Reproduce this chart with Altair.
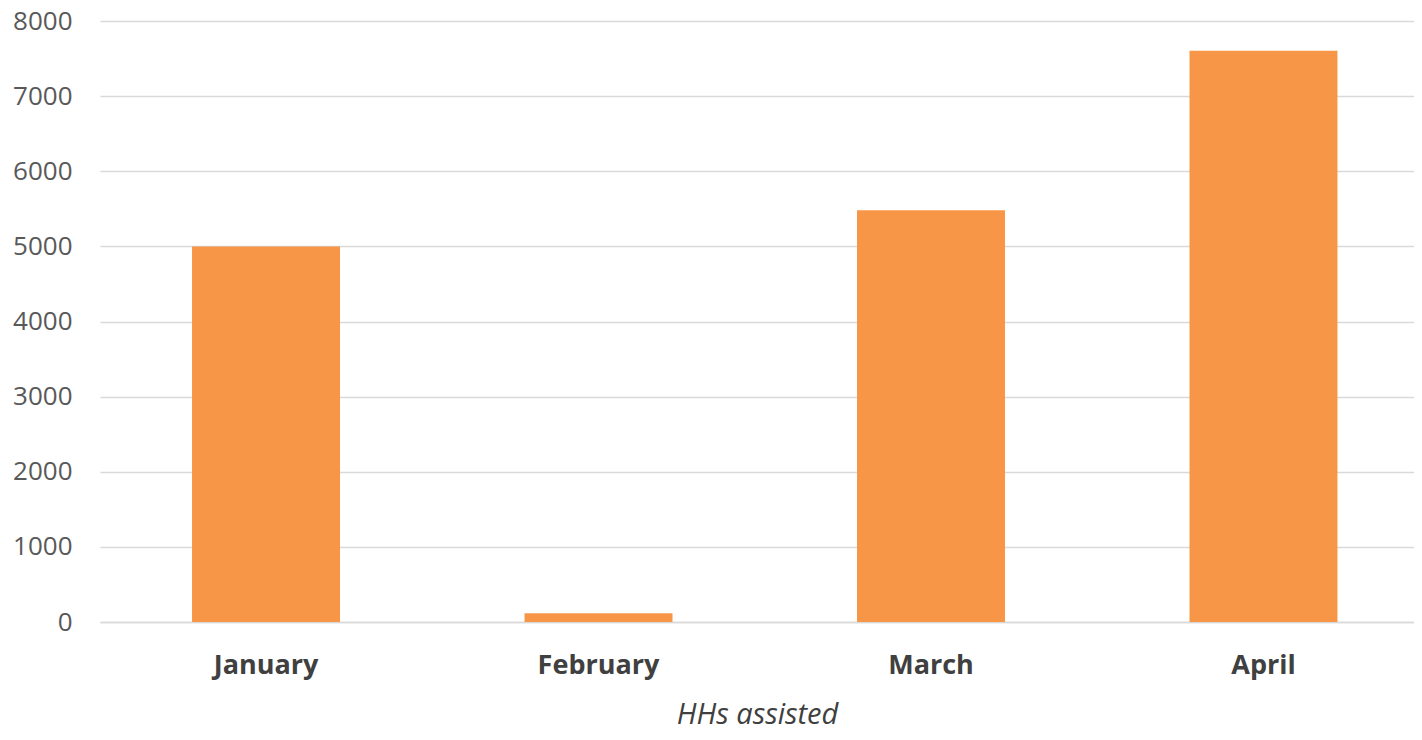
import altair as alt
import pandas as pd

months = ["January", "February", "March", "April"]
households = [5000, 115, 5480, 7605]

df = pd.DataFrame({"month": months, "value": households})

chart = alt.Chart(df).mark_bar(color="#F79646").encode(
    x=alt.X("month:N", sort=months,
            scale=alt.Scale(paddingInner=0.555, paddingOuter=0.2535, align=0.546),
            axis=alt.Axis(title="HHs assisted", labelAngle=0, ticks=False,
                          domainColor="#D9D9D9", domainWidth=1.5,
                          labelFont="Open Sans", labelFontSize=27, labelFontWeight="bold",
                          labelColor="#404040", labelPadding=30,
                          titleFont="Open Sans", titleFontSize=29, titleFontStyle="italic",
                          titleFontWeight="normal", titleColor="#404040", titlePadding=22)),
    y=alt.Y("value:Q", scale=alt.Scale(domain=[0, 8000]),
            axis=alt.Axis(title=None, values=list(range(0, 8001, 1000)), format="d",
                          ticks=False, domain=False, gridColor="#D9D9D9", gridWidth=1.5,
                          labelFont="Open Sans", labelFontSize=26, labelColor="#595959",
                          labelPadding=28)),
).properties(
    width=1314, height=601,
    autosize=alt.AutoSizeParams(type="none"),
    padding={"left": 92, "top": 13, "right": 0, "bottom": 110},
).configure_view(stroke=None)

chart.save("out.html", embed_options={"renderer": "svg", "actions": False})
